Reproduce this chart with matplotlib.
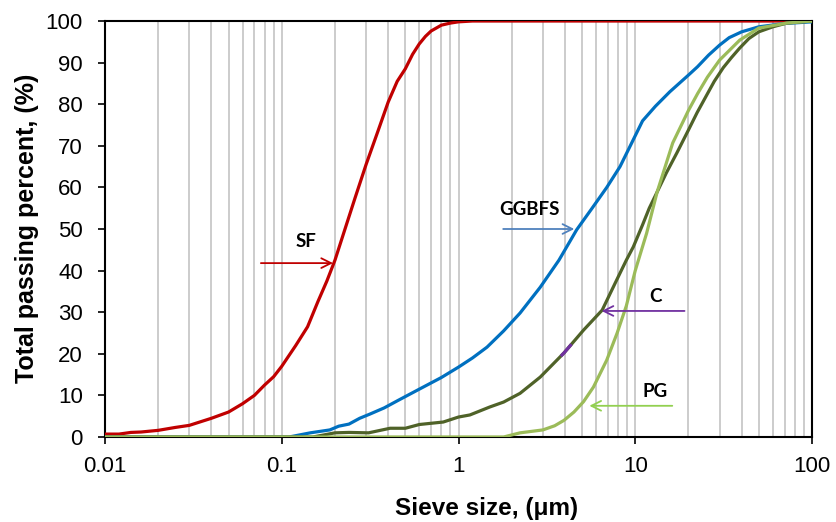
import numpy as np
import matplotlib
matplotlib.use("Agg")
import matplotlib.pyplot as plt
from matplotlib.ticker import FixedLocator, FixedFormatter, NullFormatter, LogLocator

# ---- data ----
sf_x = [0.01, 0.012, 0.014, 0.016, 0.02, 0.025, 0.03, 0.04, 0.05, 0.06, 0.07, 0.08, 0.09, 0.1,
        0.12, 0.14, 0.16, 0.18, 0.2, 0.23, 0.26, 0.3, 0.35, 0.4, 0.45, 0.5, 0.55, 0.6, 0.65, 0.7,
        0.8, 0.9, 1.0, 1.2, 100]
sf_y = [0.7, 0.7, 1.1, 1.2, 1.6, 2.3, 2.8, 4.5, 6.0, 8.0, 10.0, 12.5, 14.5, 17.0,
        22.0, 26.5, 32.5, 37.5, 42.5, 50.5, 57.5, 65.5, 73.5, 80.5, 85.5, 88.5, 92.0, 94.5, 96.3, 97.6,
        99.0, 99.5, 99.8, 100, 100]

gg_x = [0.01, 0.11, 0.145, 0.187, 0.21, 0.24, 0.276, 0.315, 0.38, 0.46, 0.6, 0.8, 1.0, 1.2, 1.45,
        1.8, 2.23, 2.9, 3.7, 4.66, 5.7, 6.9, 8.2, 9.5, 11.0, 13.0, 15.7, 20.0, 22.5, 26.0, 30,
        34.0, 40.0, 50, 70, 100]
gg_y = [0.0, 0.0, 1.0, 1.7, 2.6, 3.1, 4.5, 5.5, 7.0, 8.9, 11.5, 14.3, 16.8, 19.0, 21.6,
        25.5, 29.8, 36.0, 42.5, 49.8, 55.0, 60.0, 65.0, 70.5, 76.0, 79.5, 83.0, 87.0, 89.0, 91.8, 94.2,
        96.0, 97.4, 98.6, 99.4, 99.8]

c_x = [0.01, 0.15, 0.2, 0.24, 0.31, 0.41, 0.5, 0.6, 0.82, 1.0, 1.16, 1.5, 1.8, 2.23, 2.9, 3.95,
       5.1, 6.5, 7.7, 8.9, 9.75, 11.0, 12.0, 13.3, 15.0, 17.2, 20.0, 22.4, 25.6, 28.0, 31.5, 35.0,
       39.0, 44.0, 50.0, 60.0, 72.0, 100]
c_y = [0.0, 0.0, 1.0, 1.1, 1.0, 2.1, 2.1, 3.0, 3.6, 4.8, 5.3, 7.2, 8.4, 10.5, 14.4, 20.2,
       25.7, 30.5, 37.0, 42.5, 45.7, 51.0, 55.0, 58.9, 63.5, 68.3, 73.8, 78.0, 82.5, 85.5, 88.8, 91.2,
       93.5, 95.8, 97.4, 98.6, 99.5, 100]

pg_x = [0.01, 1.8, 2.23, 3.0, 3.5, 3.95, 4.5, 5.1, 5.8, 6.9, 7.9, 8.9, 10, 11.6, 13.3, 16.3, 20.0,
        22.5, 25.6, 30, 39, 50, 72, 100]
pg_y = [0.0, 0.0, 1.0, 1.7, 2.7, 4.0, 6.0, 8.5, 12.0, 18.5, 25.0, 31.5, 40.0, 49.0, 58.9, 70.7,
        78.5, 82.5, 86.5, 90.6, 95.4, 98.3, 99.5, 100]

x_ticks = [0.01, 0.1, 1, 10, 100]
x_tick_labels = ["0.01", "0.1", "1", "10", "100"]
y_ticks = list(range(0, 101, 10))

labels = ["SF", "GGBFS", "C", "PG"]
colors = ["#C00000", "#0070C0", "#4F6228", "#9BBB59"]
arrow_colors = ["#C00000", "#4F81BD", "#7030A0", "#92D050"]

# ---- figure ----
fig = plt.figure(figsize=(8.36, 5.22), dpi=100)
ax = fig.add_axes([105/836, 1 - 437/522, (812-105)/836, (437-21)/522])
ax.set_xscale("log")
ax.set_xlim(0.01, 100)
ax.set_ylim(0, 100)

ax.xaxis.set_major_locator(FixedLocator(x_ticks))
ax.xaxis.set_major_formatter(FixedFormatter(x_tick_labels))
ax.xaxis.set_minor_locator(LogLocator(base=10, subs=np.arange(2, 10)))
ax.xaxis.set_minor_formatter(NullFormatter())
ax.grid(True, which="both", axis="x", color="#BFBFBF", linewidth=1.1)
ax.set_axisbelow(True)
ax.set_yticks(y_ticks)

for xs, ys, col in zip([sf_x, gg_x, c_x, pg_x], [sf_y, gg_y, c_y, pg_y], colors):
    ax.plot(xs, ys, color=col, linewidth=2.3, solid_joinstyle="round", solid_capstyle="round", zorder=3)

# little purple segment on C curve
seg_x = np.linspace(3.85, 4.3, 5)
ax.plot(seg_x, np.interp(np.log10(seg_x), np.log10(c_x), c_y), color="#7030A0", linewidth=2.3, zorder=4)

ax.tick_params(axis="y", which="major", direction="out", length=5, width=1.2, color="black",
               labelsize=16, pad=11)
ax.tick_params(axis="x", which="major", direction="out", length=5, width=1.2, color="black",
               labelsize=16, pad=9)
ax.tick_params(axis="x", which="minor", length=0)
for lab in ax.get_xticklabels() + ax.get_yticklabels():
    lab.set_fontfamily(["Liberation Sans", "DejaVu Sans"])

for sp in ax.spines.values():
    sp.set_color("black")
    sp.set_linewidth(1.5)

ax.set_ylabel("Total passing percent, (%)", fontsize=18, fontweight="bold",
              family=["Liberation Sans", "DejaVu Sans"])
ax.set_xlabel("Sieve size, (\u03bcm)", fontsize=17.5, fontweight="bold",
              family=["Liberation Sans", "DejaVu Sans"])
ax.yaxis.set_label_coords(-0.110, 0.501)
ax.yaxis.label.set_va("center")
ax.xaxis.set_label_coords(0.54, -0.171)
ax.xaxis.label.set_va("center")

# annotations
ann_font = dict(fontsize=13.5, fontweight="bold", family=["Lato", "DejaVu Sans"], ha="center", va="center")
ann = [
    ("SF", (0.138, 47.0), (0.0762, 41.8), (0.195, 41.8)),
    ("GGBFS", (2.53, 54.6), (1.79, 50.0), (4.52, 50.0)),
    ("C", (13.1, 33.7), (19.0, 30.3), (6.45, 30.3)),
    ("PG", (12.9, 11.0), (16.2, 7.5), (5.5, 7.5)),
]
for (txt, tpos, tail, head), acol in zip(ann, arrow_colors):
    ax.text(tpos[0], tpos[1], txt, color="black", zorder=5, **ann_font)
    ax.annotate("", xy=head, xytext=tail,
                arrowprops=dict(arrowstyle="->,head_length=0.7,head_width=0.35", color=acol, lw=1.3,
                                shrinkA=0, shrinkB=0), zorder=5)

fig.savefig("out.png", dpi=100)
